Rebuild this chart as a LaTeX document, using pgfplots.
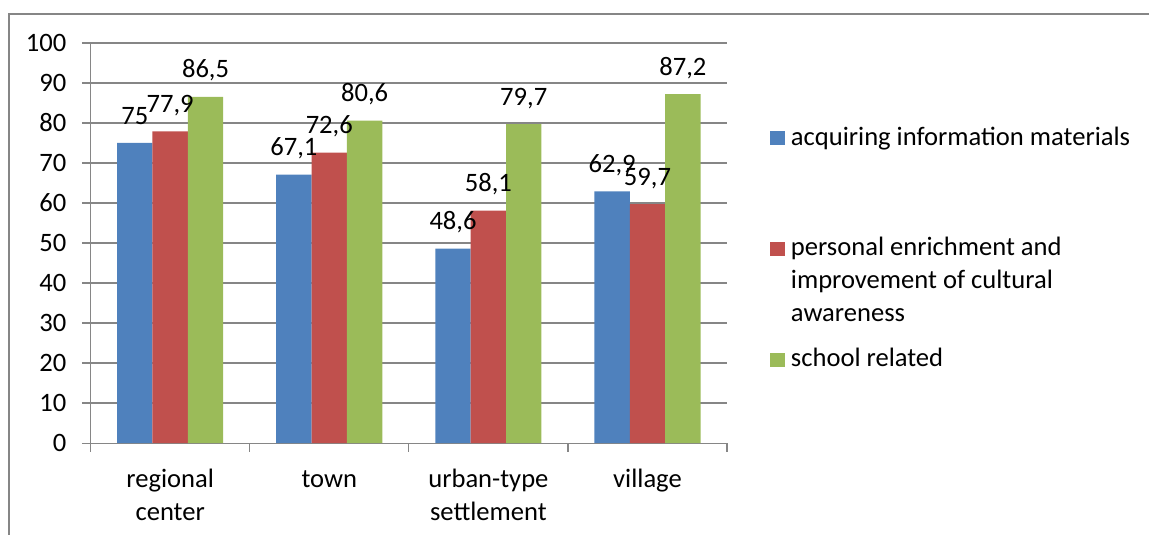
\documentclass[border=0pt]{standalone}
\usepackage{pgfplots}
\pgfplotsset{compat=1.18}
\usepackage{fontspec}
\setmainfont{Carlito}
\definecolor{cblue}{HTML}{4F81BD}
\definecolor{cred}{HTML}{C0504D}
\definecolor{cgreen}{HTML}{9BBB59}
\definecolor{cgrid}{HTML}{868686}
\begin{document}
\fontsize{13.3bp}{16.5bp}\selectfont
\begin{tikzpicture}
\path (0,0) rectangle (575bp,267.5bp);
\draw[cgrid, line width=1bp] (4.5bp,0bp) -- (4.5bp,260.5bp) -- (575bp,260.5bp);
\begin{axis}[
  at={(45.35bp,45.75bp)}, anchor=south west,
  scale only axis, width=318.5bp, height=200.25bp,
  xmin=-0.5, xmax=3.5, ymin=0, ymax=100,
  ybar=0pt, bar width=17.7bp,
  axis x line*=bottom, axis y line*=left,
  axis line style={cgrid, line width=0.6bp},
  tick align=outside,
  major tick length=4.35bp,
  tick style={cgrid, line width=0.6bp},
  ytick={0,10,...,100},
  ymajorgrids, grid style={cgrid, line width=0.6bp},
  xtick={-0.5,0.5,1.5,2.5,3.5},
  xticklabels={{\begin{tabular}[t]{@{}c@{}}regional\\center\end{tabular}},
               {town},
               {\begin{tabular}[t]{@{}c@{}}urban-type\\settlement\end{tabular}},
               {village},{}},
  xticklabel style={anchor=base, inner sep=0pt, xshift=39.81bp, yshift=-17.65bp},
  yticklabel style={anchor=east, inner sep=0pt, xshift=-7.65bp},
  /pgf/number format/assume math mode=true,
  nodes near coords={\pgfmathprintnumber[fixed,precision=1,use comma]{\pgfplotspointmeta}},
  nodes near coords style={anchor=base, inner sep=0pt, yshift=9.5bp, text=black},
  legend image code/.code={\fill[#1] (0bp,0bp) rectangle (7.5bp,7bp);},
  legend style={at={(1.0674,0.802)}, anchor=north west, draw=none, fill=none,
    inner sep=0pt, outer sep=0pt, row sep=0pt, column sep=3bp,
    nodes={anchor=base west, inner sep=0pt}},
]
\addplot[fill=cblue, draw=none] coordinates {(0,75) (1,67.1) (2,48.6) (3,62.9)};
\addlegendentry{\strut acquiring information materials}
\addplot[fill=cred, draw=none] coordinates {(0,77.9) (1,72.6) (2,58.1) (3,59.7)};
\addlegendentry{\rule{0pt}{53.4bp}\begin{tabular}[t]{@{}l@{}}personal enrichment and\\improvement of cultural\\awareness\end{tabular}}
\addplot[fill=cgreen, draw=none] coordinates {(0,86.5) (1,80.6) (2,79.7) (3,87.2)};
\addlegendentry{\rule{0pt}{53.4bp}school related}
\end{axis}
\end{tikzpicture}
\end{document}
